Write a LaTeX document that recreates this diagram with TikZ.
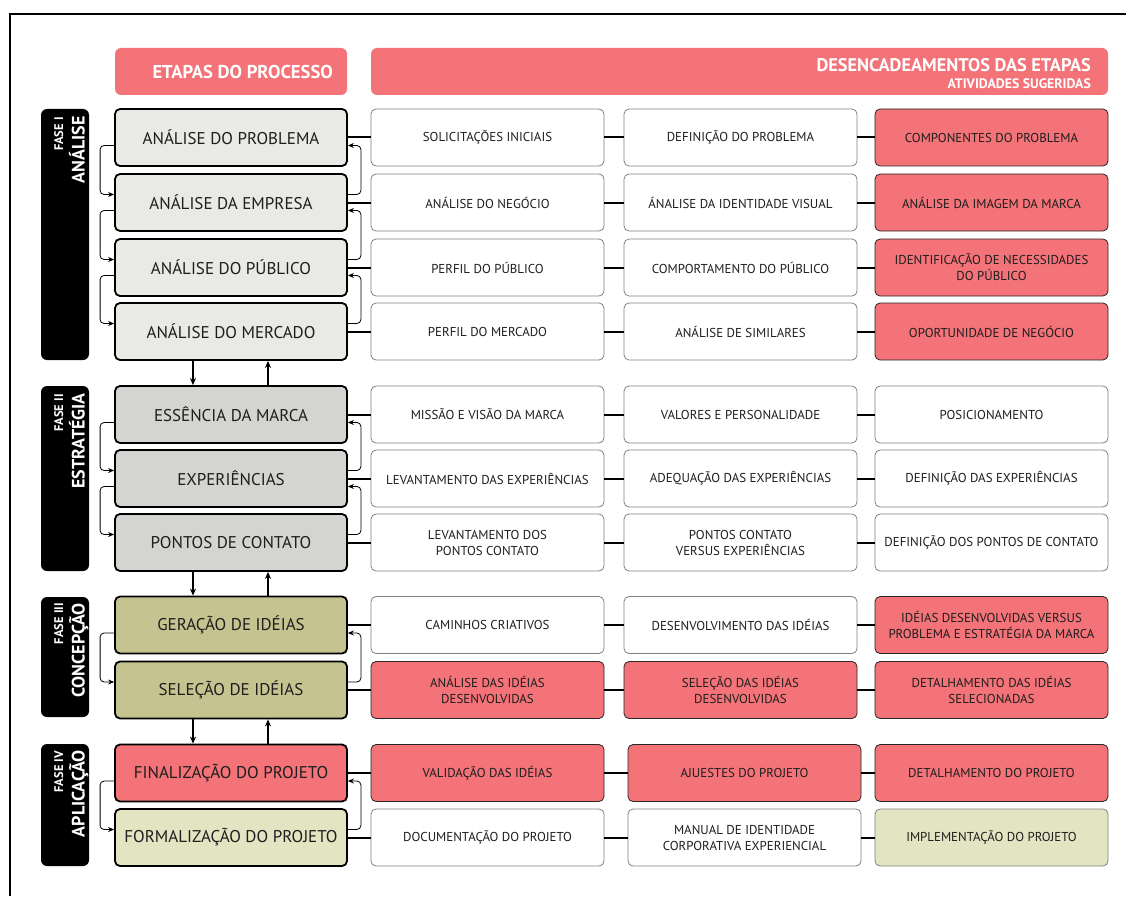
\documentclass[tikz,border=0pt]{standalone}
\usepackage{fontspec}
\setmainfont{PT Sans}
\usetikzlibrary{arrows.meta}
\definecolor{rosa}{HTML}{F37379}
\definecolor{faseA}{HTML}{E9EAE6}
\definecolor{faseB}{HTML}{D4D4D0}
\definecolor{faseC}{HTML}{C5C490}
\definecolor{faseD}{HTML}{E3E4C2}
\definecolor{cellline}{HTML}{808080}
\definecolor{txt}{HTML}{1E1E1E}
\tikzset{
  hdrbox/.style={fill=rosa, rounded corners=6pt, minimum height=47pt, inner sep=0pt},
  hdrtxt/.style={anchor=base east, text=white, inner sep=0pt},
  phasebox/.style={fill=black, rounded corners=6pt, minimum width=48pt, inner sep=0pt},
  phasesmall/.style={rotate=90, anchor=base east, text=white, inner sep=0pt, font=\fontsize{12.5}{14}\selectfont\bfseries},
  phasebig/.style={rotate=90, anchor=base east, text=white, inner sep=0pt, font=\fontsize{18}{20}\selectfont\bfseries},
  stagebox/.style={draw=black, line width=1.8pt, rounded corners=5pt, minimum width=232pt, minimum height=57pt, inner sep=0pt, text=txt, font=\fontsize{17}{19}\selectfont},
  cellbox/.style={draw=cellline, line width=0.8pt, fill=white, rounded corners=5pt, minimum width=233pt, minimum height=57pt, inner sep=0pt, align=center, text=txt, font=\fontsize{12.9}{16}\selectfont},
  hotcell/.style={cellbox, draw=black!85, fill=rosa},
  conn/.style={line width=2pt, black},
  fb/.style={line width=0.8pt, black, rounded corners=4pt, -{Stealth[length=6pt,width=5pt]}},
  phasearrow/.style={line width=1.8pt, black, -{Stealth[length=7pt,width=6pt]}}
}
\begin{document}
\begin{tikzpicture}[x=1pt,y=-1pt]
\useasboundingbox (0,0) rectangle (1126,896);
\coordinate (fA) at (10,896);
\coordinate (fB) at (10,14);
\coordinate (fC) at (1126,14);
\draw[line width=1.2pt] (fA) -- (fB) -- (fC);

% headers
\node[hdrbox, minimum width=232pt] (h1) at (231,71.5) {};
\node[hdrtxt, font=\fontsize{18.6}{19}\selectfont\bfseries] (h1t) at (333,78.5) {ETAPAS DO PROCESSO};
\node[hdrbox, minimum width=737pt] (h2) at (739.5,71.5) {};
\node[hdrtxt, font=\fontsize{18.3}{19}\selectfont\bfseries] (h2t) at (1091,72) {DESENCADEAMENTOS DAS ETAPAS};
\node[hdrtxt, font=\fontsize{13.8}{15}\selectfont\bfseries] (h2s) at (1091,88.5) {ATIVIDADES SUGERIDAS};

% phase labels
\node[phasebox, minimum height=251pt] (p1) at (65,234.5) {};
\node[phasesmall] (p1a) at (63,117) {FASE I};
\node[phasebig] (p1b) at (84.5,116) {ANÁLISE};
\node[phasebox, minimum height=185pt] (p2) at (65,478.5) {};
\node[phasesmall] (p2a) at (63,394) {FASE II};
\node[phasebig] (p2b) at (84.5,393) {ESTRATÉGIA};
\node[phasebox, minimum height=120pt] (p3) at (65,657) {};
\node[phasesmall] (p3a) at (63,603) {FASE III};
\node[phasebig] (p3b) at (84.5,603) {CONCEPÇÃO};
\node[phasebox, minimum height=122pt] (p4) at (65,805) {};
\node[phasesmall] (p4a) at (63,751) {FASE IV};
\node[phasebig] (p4b) at (84.5,750) {APLICAÇÃO};

% stages
\node[stagebox, fill=faseA] (s11) at (231,137.5) {ANÁLISE DO PROBLEMA};
\node[stagebox, fill=faseA] (s12) at (231,202.5) {ANÁLISE DA EMPRESA};
\node[stagebox, fill=faseA] (s13) at (231,267.5) {ANÁLISE DO PÚBLICO};
\node[stagebox, fill=faseA] (s14) at (231,331.5) {ANÁLISE DO MERCADO};
\node[stagebox, fill=faseB] (s21) at (231,414.5) {ESSÊNCIA DA MARCA};
\node[stagebox, fill=faseB] (s22) at (231,478.5) {EXPERIÊNCIAS};
\node[stagebox, fill=faseB] (s23) at (231,542.5) {PONTOS DE CONTATO};
\node[stagebox, fill=faseC] (s31) at (231,625) {GERAÇÃO DE IDÉIAS};
\node[stagebox, fill=faseC] (s32) at (231,690) {SELEÇÃO DE IDÉIAS};
\node[stagebox, fill=rosa] (s41) at (231,773) {FINALIZAÇÃO DO PROJETO};
\node[stagebox, fill=faseD] (s42) at (231,837.5) {FORMALIZAÇÃO DO PROJETO};

% cells: phase I
\node[cellbox] (a12) at (487.5,137.5) {SOLICITAÇÕES INICIAIS};
\node[cellbox] (a13) at (740.5,137.5) {DEFINIÇÃO DO PROBLEMA};
\node[hotcell] (a14) at (991.5,137.5) {COMPONENTES DO PROBLEMA};
\node[cellbox] (a22) at (487.5,202.5) {ANÁLISE DO NEGÓCIO};
\node[cellbox] (a23) at (740.5,202.5) {ÁNALISE DA IDENTIDADE VISUAL};
\node[hotcell] (a24) at (991.5,202.5) {ANÁLISE DA IMAGEM DA MARCA};
\node[cellbox] (a32) at (487.5,267.5) {PERFIL DO PÚBLICO};
\node[cellbox] (a33) at (740.5,267.5) {COMPORTAMENTO DO PÚBLICO};
\node[hotcell] (a34) at (991.5,267.5) {IDENTIFICAÇÃO DE NECESSIDADES\\DO PÚBLICO};
\node[cellbox] (a42) at (487.5,331.5) {PERFIL DO MERCADO};
\node[cellbox] (a43) at (740.5,331.5) {ANÁLISE DE SIMILARES};
\node[hotcell] (a44) at (991.5,331.5) {OPORTUNIDADE DE NEGÓCIO};
% phase II
\node[cellbox] (b12) at (487.5,414.5) {MISSÃO E VISÃO DA MARCA};
\node[cellbox] (b13) at (740.5,414.5) {VALORES E PERSONALIDADE};
\node[cellbox] (b14) at (991.5,414.5) {POSICIONAMENTO};
\node[cellbox] (b22) at (487.5,478.5) {LEVANTAMENTO DAS EXPERIÊNCIAS};
\node[cellbox] (b23) at (740.5,478.5) {ADEQUAÇÃO DAS EXPERIÊNCIAS};
\node[cellbox] (b24) at (991.5,478.5) {DEFINIÇÃO DAS EXPERIÊNCIAS};
\node[cellbox] (b32) at (487.5,542.5) {LEVANTAMENTO DOS\\PONTOS CONTATO};
\node[cellbox] (b33) at (740.5,542.5) {PONTOS CONTATO\\VERSUS EXPERIÊNCIAS};
\node[cellbox] (b34) at (991.5,542.5) {DEFINIÇÃO DOS PONTOS DE CONTATO};
% phase III
\node[cellbox] (c12) at (487.5,625) {CAMINHOS CRIATIVOS};
\node[cellbox] (c13) at (740.5,625) {DESENVOLVIMENTO DAS IDÉIAS};
\node[hotcell] (c14) at (991.5,625) {IDÉIAS DESENVOLVIDAS VERSUS\\PROBLEMA E ESTRATÉGIA DA MARCA};
\node[hotcell] (c22) at (487.5,690) {ANÁLISE DAS IDÉIAS\\DESENVOLVIDAS};
\node[hotcell] (c23) at (740.5,690) {SELEÇÃO DAS IDÉIAS\\DESENVOLVIDAS};
\node[hotcell] (c24) at (991.5,690) {DETALHAMENTO DAS IDÉIAS\\SELECIONADAS};
% phase IV
\node[hotcell] (d12) at (487.5,773) {VALIDAÇÃO DAS IDÉIAS};
\node[hotcell] (d13) at (744.5,773) {AJUESTES DO PROJETO};
\node[hotcell] (d14) at (991.5,773) {DETALHAMENTO DO PROJETO};
\node[cellbox] (d22) at (487.5,837.5) {DOCUMENTAÇÃO DO PROJETO};
\node[cellbox] (d23) at (744.5,837.5) {MANUAL DE IDENTIDADE\\CORPORATIVA EXPERIENCIAL};
\node[cellbox, fill=faseD] (d24) at (991.5,837.5) {IMPLEMENTAÇÃO DO PROJETO};

% horizontal connectors
\foreach \s/\p/\q/\r in {s11/a12/a13/a14, s12/a22/a23/a24, s13/a32/a33/a34, s14/a42/a43/a44,
  s21/b12/b13/b14, s22/b22/b23/b24, s23/b32/b33/b34,
  s31/c12/c13/c14, s32/c22/c23/c24, s41/d12/d13/d14, s42/d22/d23/d24}{
  \draw[conn] (\s) -- (\p);
  \draw[conn] (\p) -- (\q);
  \draw[conn] (\q) -- (\r);
}

% feedback arrows within phases
\foreach \u/\l in {s11/s12, s12/s13, s13/s14, s21/s22, s22/s23, s31/s32, s41/s42}{
  \draw[fb] ([yshift=-8pt]\u.west) -- ++(-14,0) |- ([yshift=8pt]\l.west);
  \draw[fb] ([yshift=8pt]\l.east) -- ++(13,0) |- ([yshift=-8pt]\u.east);
}

% arrows between phases
\foreach \u/\l in {s14/s21, s23/s31, s32/s41}{
  \draw[phasearrow] ([xshift=-38pt]\u.south) -- ([xshift=-38pt]\l.north);
  \draw[phasearrow] ([xshift=37pt]\l.north) -- ([xshift=37pt]\u.south);
}
\end{tikzpicture}
\end{document}
